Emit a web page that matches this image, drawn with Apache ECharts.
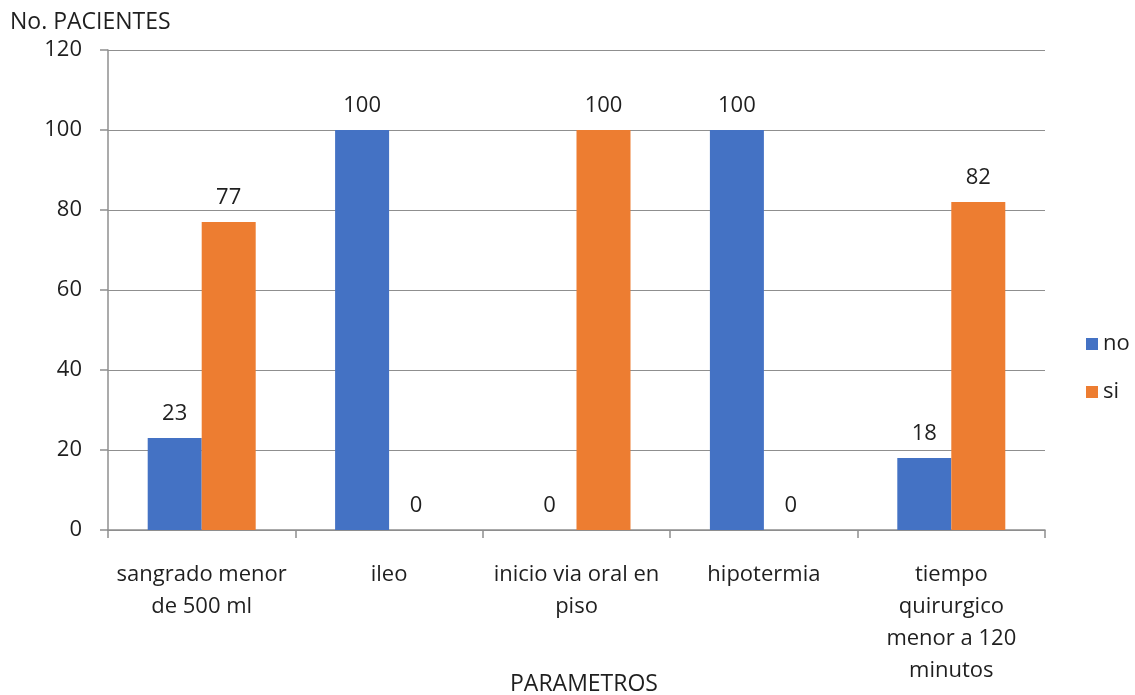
<!DOCTYPE html>
<html>
<head>
<meta charset="utf-8">
<script src="https://cdn.jsdelivr.net/npm/echarts@6/dist/echarts.min.js"></script>
<style>
  html, body { margin: 0; padding: 0; background: #ffffff; }
  #chart { width: 1135px; height: 695px; }
</style>
</head>
<body>
<div id="chart"></div>
<script>
// Categories (line breaks as they appear under the axis)
const categories = [
  'sangrado menor\nde 500 ml',
  'ileo',
  'inicio via oral en\npiso',
  'hipotermia',
  'tiempo\nquirurgico\nmenor a 120\nminutos'
];
const seriesNames = ['no', 'si'];
const valuesNo = [23, 100, 0, 100, 18];
const valuesSi = [77, 0, 100, 0, 82];
const yTicks = [0, 20, 40, 60, 80, 100, 120];

const FONT = '"Open Sans", Lato, sans-serif';
const TEXT = '#1f1f1f';
const FS = 22;
const AXIS_GRAY = '#8f8f8f';

const chart = echarts.init(document.getElementById('chart'));

const labelStyle = {
  show: true,
  position: 'top',
  distance: 13,
  color: TEXT,
  fontFamily: FONT,
  fontSize: FS
};

chart.setOption({
  animation: false,
  textStyle: { fontFamily: FONT },
  color: ['#4472C4', '#ED7D31'],
  title: [
    {
      text: 'No. PACIENTES',
      left: 5,
      top: 6,
      textStyle: { color: TEXT, fontFamily: FONT, fontSize: 23, fontWeight: 'normal' }
    },
    {
      text: 'PARAMETROS',
      left: 579,
      textAlign: 'center',
      top: 668,
      textStyle: { color: TEXT, fontFamily: FONT, fontSize: 23, fontWeight: 'normal' }
    }
  ],
  legend: {
    orient: 'vertical',
    left: 1081,
    top: 328,
    itemWidth: 12,
    itemHeight: 12,
    itemGap: 26,
    icon: 'rect',
    data: seriesNames,
    textStyle: { color: TEXT, fontFamily: FONT, fontSize: FS }
  },
  grid: { left: 108, right: 90, top: 50, bottom: 165, containLabel: false },
  xAxis: {
    type: 'category',
    data: categories,
    axisLine: { show: true, lineStyle: { color: AXIS_GRAY, width: 1.5 } },
    axisTick: { show: true, length: 8, alignWithLabel: false, lineStyle: { color: AXIS_GRAY, width: 1.5 } },
    axisLabel: {
      interval: 0,
      margin: 29,
      color: TEXT,
      fontFamily: FONT,
      fontSize: FS,
      lineHeight: 32
    }
  },
  yAxis: {
    type: 'value',
    min: yTicks[0],
    max: yTicks[yTicks.length - 1],
    interval: 20,
    axisLine: { show: true, lineStyle: { color: AXIS_GRAY, width: 1.5 } },
    axisTick: { show: true, length: 8, lineStyle: { color: AXIS_GRAY, width: 1.5 } },
    splitLine: { show: true, lineStyle: { color: AXIS_GRAY, width: 1.2 } },
    axisLabel: {
      margin: 26,
      color: TEXT,
      fontFamily: FONT,
      fontSize: FS
    }
  },
  series: [
    {
      name: seriesNames[0],
      type: 'bar',
      data: valuesNo,
      barWidth: 54,
      barGap: '0%',
      label: labelStyle
    },
    {
      name: seriesNames[1],
      type: 'bar',
      data: valuesSi,
      barWidth: 54,
      barGap: '0%',
      label: labelStyle
    }
  ]
});
</script>
</body>
</html>
